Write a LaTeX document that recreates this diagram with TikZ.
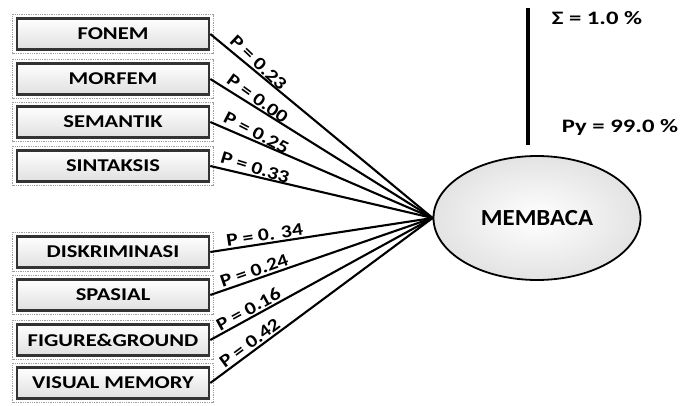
\documentclass[tikz,border=0pt]{standalone}
\usepackage{graphicx}
\usepackage{fontspec}
\setmainfont{Carlito}
\usetikzlibrary{calc,shapes.geometric}
\newcommand{\hsx}[2][1.25]{\scalebox{#1}[1]{#2}}
\begin{document}
\begin{tikzpicture}[x=1pt,y=-1pt,
  box/.style={rectangle, minimum width=192pt, minimum height=31pt, draw=gray!40!black, line width=2.6pt,
    top color=white, bottom color=gray!25, font=\bfseries\fontsize{18}{18}\selectfont, inner sep=0pt},
  lbl/.style={sloped, above, font=\bfseries\fontsize{18}{18}\selectfont, inner sep=1.5pt},
  link/.style={line width=2.1pt, black},
  frame/.style={draw=gray!75, densely dotted, line width=1.3pt}]
\useasboundingbox (0,0) rectangle (692,406);
\node[box] (fonem) at (113,34) {\hsx{FONEM}};
\node[box] (morfem) at (113,79) {\hsx{MORFEM}};
\node[box] (semantik) at (113,122) {\hsx{SEMANTIK}};
\node[box] (sintaksis) at (113,166) {\hsx{SINTAKSIS}};
\node[box] (diskriminasi) at (113,252) {\hsx{DISKRIMINASI}};
\node[box] (spasial) at (113,295) {\hsx{SPASIAL}};
\node[box] (figure) at (113,340) {\hsx{FIGURE\&GROUND}};
\node[box] (visual) at (113,383) {\hsx{VISUAL MEMORY}};
\foreach \n in {fonem,morfem,semantik,sintaksis,diskriminasi,spasial,figure,visual}
  \draw[frame] ($(\n.south west)+(-3,3)$) rectangle ($(\n.north east)+(3,-3)$);
\node[ellipse, draw, line width=1.8pt, minimum width=207pt, minimum height=124pt,
  inner color=white, outer color=gray!22, font=\bfseries\fontsize{23}{23}\selectfont] (m) at (537,218) {\hsx[1.08]{MEMBACA}};
\draw[link] (fonem.east) -- node[lbl,pos=0.19,rotate=-4]{\hsx[1.2]{P = 0.23}} (m.west);
\draw[link] (morfem.east) -- node[lbl,pos=0.19,rotate=-4]{\hsx[1.2]{P = 0.00}} (m.west);
\draw[link] (semantik.east) -- node[lbl,pos=0.19,rotate=-4]{\hsx[1.2]{P = 0.25}} (m.west);
\draw[link] (sintaksis.east) -- node[lbl,pos=0.19,rotate=-4]{\hsx[1.2]{P = 0.33}} (m.west);
\draw[link] (diskriminasi.east) -- node[lbl,pos=0.25]{\hsx[1.2]{P = 0. 34}} (m.west);
\draw[link] (spasial.east) -- node[lbl,pos=0.21]{\hsx[1.2]{P = 0.24}} (m.west);
\draw[link] (figure.east) -- node[lbl,pos=0.19]{\hsx[1.2]{P = 0.16}} (m.west);
\draw[link] (visual.east) -- node[lbl,pos=0.2]{\hsx[1.2]{P = 0.42}} (m.west);
\coordinate (vt) at (528,8);
\coordinate (vb) at (528,145);
\draw[line width=3.5pt] (vt) -- (vb);
\node[font=\bfseries\fontsize{19}{19}\selectfont] (sig) at (597,18) {\hsx[1.3]{Σ = 1.0 \%}};
\node[font=\bfseries\fontsize{19}{19}\selectfont] (py) at (620,127) {\hsx[1.3]{Py = 99.0 \%}};
\end{tikzpicture}
\end{document}
